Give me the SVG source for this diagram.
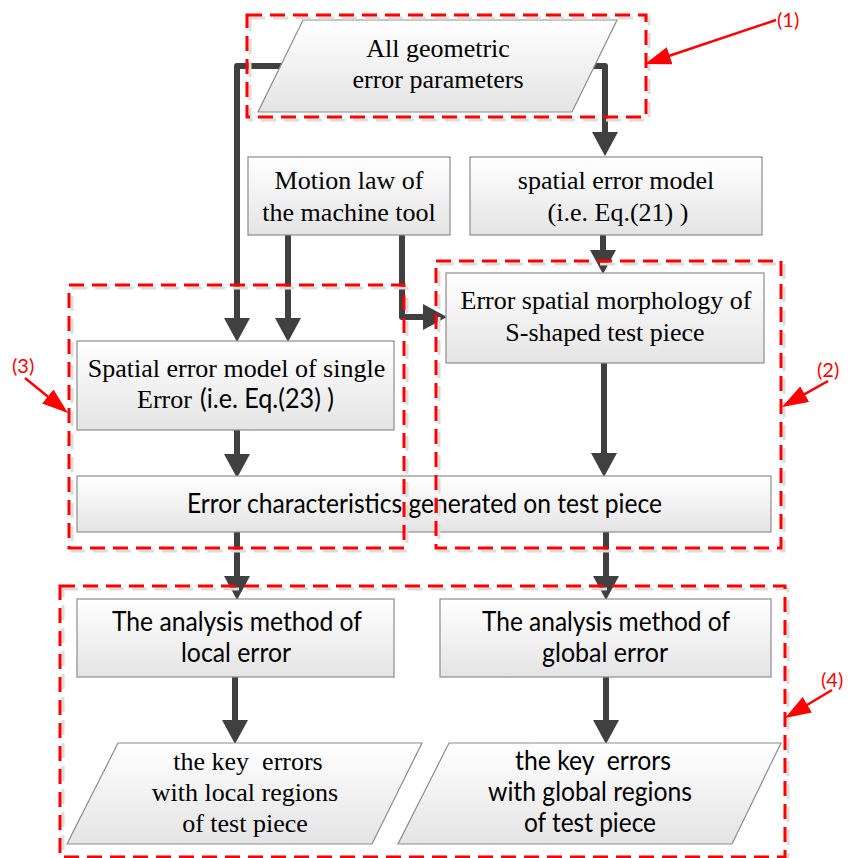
<svg xmlns="http://www.w3.org/2000/svg" width="853" height="858" viewBox="0 0 853 858">
<defs>
<linearGradient id="g" x1="0" y1="0" x2="0" y2="1">
<stop offset="0" stop-color="#ffffff"/>
<stop offset="1" stop-color="#e4e4e4"/>
</linearGradient>
<marker id="ah" viewBox="0 0 24 26" refX="1" refY="13" markerWidth="24" markerHeight="26" markerUnits="userSpaceOnUse" orient="auto">
<path d="M0,0 L24,13 L0,26 z" fill="#404040"/>
</marker>
<marker id="rh" viewBox="0 0 26 18" refX="1" refY="9" markerWidth="26" markerHeight="18" markerUnits="userSpaceOnUse" orient="auto">
<path d="M0,0 L26,9 L0,18 z" fill="#ff0000"/>
</marker>
<style>
.box{fill:url(#g);stroke:#8c8c8c;stroke-width:1.2}
.serif{font-family:"Liberation Serif","Times New Roman",serif;font-size:26px;fill:#000;text-anchor:middle}
.sans{font-family:Lato,"Open Sans",sans-serif;font-size:26px;fill:#000;text-anchor:middle}
.conn{fill:none;stroke:#404040;stroke-width:6;stroke-linecap:round;stroke-linejoin:round;marker-end:url(#ah)}
.reg{fill:none;stroke:#ff0000;stroke-width:3;stroke-dasharray:15 8}
.regs{fill:none;stroke:#dcdcdc;stroke-width:3;stroke-dasharray:15 8}
.rl{font-family:Lato,"Open Sans",sans-serif;font-size:20px;fill:#ff0000}
.ra{fill:none;stroke:#ff0000;stroke-width:2.5;marker-end:url(#rh)}
</style>
</defs>
<rect width="853" height="858" fill="#ffffff"/>

<g id="connectors">
<path class="conn" d="M282,66 H237 V319"/>
<path class="conn" d="M592,66 H605 V133"/>
<path class="conn" d="M288,235 V319"/>
<path class="conn" d="M402,235 V317 H424"/>
<path class="conn" d="M603,235 V251"/>
<path class="conn" d="M237,430 V455"/>
<path class="conn" d="M604,363 V454"/>
<path class="conn" d="M237,532 V577"/>
<path class="conn" d="M606,532 V577"/>
<path class="conn" d="M235,677 V721"/>
<path class="conn" d="M606,677 V721"/>
</g>

<g id="n-all-params">
<polygon class="box" points="303,20 617,20 572,112 258,112"/>
<text class="serif" x="438" y="57">All geometric</text>
<text class="serif" x="438" y="88">error parameters</text>
</g>

<g id="n-motion-law">
<rect class="box" x="248" y="157" width="202" height="78"/>
<text class="serif" x="349" y="189">Motion law of</text>
<text class="serif" x="349" y="221">the machine tool</text>
</g>

<g id="n-spatial-model">
<rect class="box" x="470" y="157" width="292" height="78"/>
<text class="serif" x="616" y="189">spatial error model</text>
<text class="serif" x="618" y="221">(i.e. Eq.(21) )</text>
</g>

<g id="n-single-error">
<rect class="box" x="77" y="341" width="317" height="89"/>
<text class="serif" x="236.5" y="377">Spatial error model of single</text>
<text x="137" y="408" style="font-size:26px"><tspan font-family="Liberation Serif, Times New Roman, serif">Error </tspan><tspan x="200" font-family="Lato, Open Sans, sans-serif" textLength="134" lengthAdjust="spacingAndGlyphs">(i.e. Eq.(23) )</tspan></text>
</g>

<g id="n-morphology">
<rect class="box" x="446" y="273" width="318" height="90"/>
<text class="serif" x="606" y="309">Error spatial morphology of</text>
<text class="serif" x="605" y="341">S-shaped test piece</text>
</g>

<g id="n-error-char">
<rect class="box" x="77" y="476" width="694" height="56"/>
<text class="sans" x="424.5" y="513" textLength="475" lengthAdjust="spacingAndGlyphs">Error characteristics generated on test piece</text>
</g>

<g id="n-analysis-local">
<rect class="box" x="77" y="599" width="317" height="78"/>
<text class="sans" x="237" y="631" textLength="250" lengthAdjust="spacingAndGlyphs">The analysis method of</text>
<text class="sans" x="236" y="662" textLength="110" lengthAdjust="spacingAndGlyphs">local error</text>
</g>

<g id="n-analysis-global">
<rect class="box" x="440" y="599" width="331" height="78"/>
<text class="sans" x="606" y="631" textLength="248" lengthAdjust="spacingAndGlyphs">The analysis method of</text>
<text class="sans" x="605" y="662" textLength="126" lengthAdjust="spacingAndGlyphs">global error</text>
</g>

<g id="n-key-local">
<polygon class="box" points="118,743 422,743 372,844 67,844"/>
<text class="serif" x="248" y="770" style="white-space:pre">the key  errors</text>
<text class="serif" x="245" y="801">with local regions</text>
<text class="serif" x="245" y="832">of test piece</text>
</g>

<g id="n-key-global">
<polygon class="box" points="449,743 781,743 732,844 398,844"/>
<text class="sans" x="593" y="770" textLength="156" lengthAdjust="spacingAndGlyphs" style="white-space:pre">the key  errors</text>
<text class="sans" x="590" y="801" textLength="204" lengthAdjust="spacingAndGlyphs">with global regions</text>
<text class="sans" x="590" y="832" textLength="132" lengthAdjust="spacingAndGlyphs">of test piece</text>
</g>

<g id="regions">
<rect class="regs" x="250" y="18" width="399" height="102"/>
<rect class="regs" x="439" y="264" width="345" height="287"/>
<rect class="regs" x="72" y="288" width="335" height="263"/>
<rect class="regs" x="63" y="589" width="725" height="268"/>
<rect class="reg" x="247" y="15" width="399" height="102"/>
<rect class="reg" x="436" y="261" width="345" height="287"/>
<rect class="reg" x="69" y="285" width="335" height="263"/>
<rect class="reg" x="60" y="586" width="725" height="271"/>
</g>

<g id="labels">
<path class="ra" d="M776,20 L668.7,56"/>
<text class="rl" x="777" y="27">(1)</text>
<path class="ra" d="M828,381 L803.8,394.7"/>
<text class="rl" x="817" y="377">(2)</text>
<path class="ra" d="M25,378 L48.6,397.2"/>
<text class="rl" x="12" y="373">(3)</text>
<path class="ra" d="M832,690 L806.5,705.2"/>
<text class="rl" x="821" y="687">(4)</text>
</g>
</svg>
